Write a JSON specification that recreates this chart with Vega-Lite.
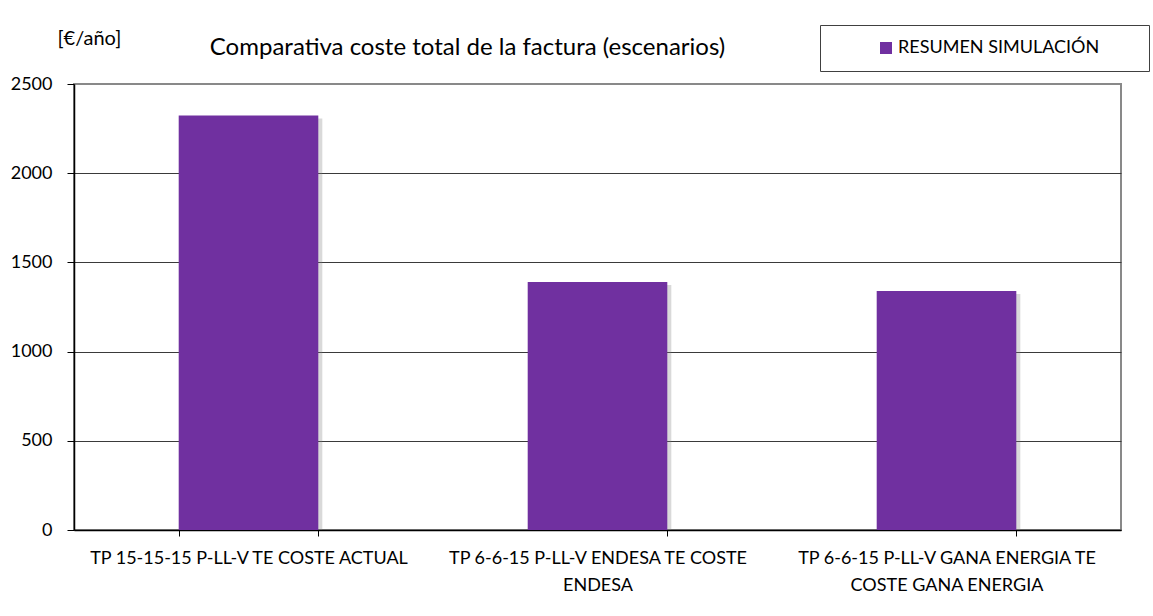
{
  "$schema": "https://vega.github.io/schema/vega-lite/v6.json",
  "width": 1047,
  "height": 446,
  "autosize": {"type": "none"},
  "padding": {"left": 74, "top": 84, "right": 32, "bottom": 86},
  "background": "white",
  "config": {
    "font": "Lato",
    "view": {"stroke": "#898989", "strokeWidth": 2},
    "axis": {"labelFont": "Lato", "titleFont": "Lato", "labelColor": "#000000", "titleColor": "#000000"}
  },
  "title": {
    "text": "Comparativa coste total de la factura (escenarios)",
    "anchor": "middle",
    "frame": "group",
    "dx": -130,
    "dy": 54,
    "offset": 0,
    "baseline": "alphabetic",
    "font": "Lato",
    "fontSize": 24,
    "fontWeight": "normal",
    "color": "#000000"
  },
  "data": {
    "values": [
      {"escenario": "TP 15-15-15 P-LL-V TE COSTE ACTUAL", "coste": 2324, "serie": "RESUMEN SIMULACIÓN"},
      {"escenario": "TP 6-6-15 P-LL-V ENDESA TE COSTE ENDESA", "coste": 1390, "serie": "RESUMEN SIMULACIÓN"},
      {"escenario": "TP 6-6-15 P-LL-V GANA ENERGIA TE COSTE GANA ENERGIA", "coste": 1340, "serie": "RESUMEN SIMULACIÓN"}
    ]
  },
  "encoding": {
    "x": {
      "field": "escenario",
      "type": "nominal",
      "sort": null,
      "scale": {"paddingInner": 0.6, "paddingOuter": 0.3},
      "axis": {
        "title": null,
        "labelAngle": 0,
        "labelFontSize": 18,
        "labelLineHeight": 27,
        "labelPadding": 13,
        "labelLimit": 0,
        "labelOverlap": false,
        "labelBaseline": "top",
        "tickBand": "extent",
        "tickSize": 6,
        "tickColor": "#000000",
        "domainColor": "#000000",
        "domainWidth": 1.5,
        "labelExpr": "datum.label == 'TP 6-6-15 P-LL-V ENDESA TE COSTE ENDESA' ? ['TP 6-6-15 P-LL-V ENDESA TE COSTE', 'ENDESA'] : datum.label == 'TP 6-6-15 P-LL-V GANA ENERGIA TE COSTE GANA ENERGIA' ? ['TP 6-6-15 P-LL-V GANA ENERGIA TE', 'COSTE GANA ENERGIA'] : datum.label"
      }
    },
    "y": {
      "field": "coste",
      "type": "quantitative",
      "scale": {"domain": [0, 2500], "nice": false},
      "axis": {
        "values": [0, 500, 1000, 1500, 2000, 2500],
        "format": "d",
        "title": "[€/año]",
        "titleAngle": 0,
        "titleX": -17,
        "titleY": -40,
        "titleAlign": "left",
        "titleBaseline": "alphabetic",
        "titleFontSize": 20,
        "titleFontWeight": "normal",
        "labelFontSize": 18,
        "labelPadding": 15,
        "tickSize": 7,
        "tickColor": "#000000",
        "domainColor": "#000000",
        "domainWidth": 1.5,
        "grid": true,
        "gridColor": {"condition": {"test": "datum.value == 2500", "value": "#898989"}, "value": "#3a3a3a"},
        "gridWidth": 1,
        "labelFlush": false
      }
    }
  },
  "layer": [
    {
      "mark": {"type": "bar", "color": "#808080", "opacity": 0.3, "xOffset": 4, "yOffset": 3, "clip": true}
    },
    {
      "mark": {"type": "bar"},
      "encoding": {
        "color": {
          "field": "serie",
          "type": "nominal",
          "scale": {"range": ["#7030A0"]},
          "legend": {
            "title": "x",
            "titleOrient": "right",
            "titleOpacity": 0,
            "titlePadding": 26,
            "titleFontSize": 18,
            "titleFont": "Lato",
            "orient": "none",
            "legendX": 746,
            "legendY": -59,
            "strokeColor": "#404040",
            "fillColor": "white",
            "padding": 14,
            "symbolType": "square",
            "symbolSize": 144,
            "symbolOffset": 43,
            "symbolStrokeWidth": 0,
            "labelOffset": 3,
            "labelFont": "Lato",
            "labelFontSize": 18,
            "labelColor": "#000000",
            "labelLimit": 0
          }
        }
      }
    }
  ]
}
